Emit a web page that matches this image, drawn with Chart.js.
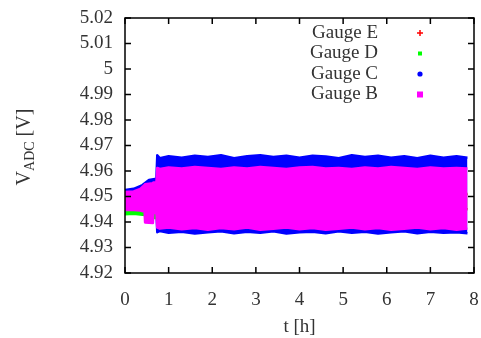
<!DOCTYPE html>
<html>
<head>
<meta charset="utf-8">
<script src="https://cdn.jsdelivr.net/npm/chart.js@4/dist/chart.umd.min.js"></script>
<style>
  html, body { margin: 0; padding: 0; background: #fff; }
  #wrap { width: 481px; height: 338px; }
</style>
</head>
<body>
<div id="wrap"><canvas id="chart" width="481" height="338"></canvas></div>
<script>
// values (upper / lower edge of each noise band)
var gaugeNames = ['Gauge E', 'Gauge D', 'Gauge C', 'Gauge B'];
var gaugeColors = ['#ff0000', '#00ff00', '#0000ff', '#ff00ff'];

var tE = [0, 7.85];
var eUp = [4.951, 4.951];
var eLo = [4.945, 4.945];

var tD = [0, 0.2, 0.4, 0.6, 0.66, 0.74];
var dUp = [4.950, 4.950, 4.950, 4.950, 4.950, 4.950];
var dLo = [4.9430, 4.9432, 4.9428, 4.9425, 4.9416, 4.9416];

var tC = [0, 0.2, 0.4, 0.55, 0.72, 0.74, 0.8, 1.0, 1.3, 1.6, 1.9, 2.2, 2.5, 2.8, 3.1, 3.4, 3.7, 4.0,
          4.3, 4.6, 4.9, 5.2, 5.5, 5.8, 6.1, 6.4, 6.7, 7.0, 7.3, 7.6, 7.85];
var cUp = [4.9525, 4.9530, 4.9545, 4.9565, 4.9570, 4.9662, 4.9650, 4.9658, 4.9652, 4.9660, 4.9655, 4.9662,
           4.9650, 4.9658, 4.9662, 4.9655, 4.9660, 4.9652, 4.9660, 4.9657, 4.9650, 4.9662, 4.9655, 4.9660,
           4.9652, 4.9658, 4.9650, 4.9660, 4.9652, 4.9658, 4.9652];
var cLo = [4.9445, 4.9445, 4.9445, 4.9445, 4.9445, 4.9360, 4.9365, 4.9358, 4.9362, 4.9355, 4.9360, 4.9364,
           4.9356, 4.9362, 4.9358, 4.9364, 4.9355, 4.9360, 4.9362, 4.9356, 4.9364, 4.9358, 4.9362, 4.9355,
           4.9360, 4.9364, 4.9356, 4.9362, 4.9358, 4.9360, 4.9356];

var tB = [0, 0.2, 0.35, 0.45, 0.46, 0.64, 0.65, 0.72, 0.74, 0.8, 1.0, 1.3, 1.6, 1.9, 2.2, 2.5, 2.8, 3.1,
          3.4, 3.7, 4.0, 4.3, 4.6, 4.9, 5.2, 5.5, 5.8, 6.1, 6.4, 6.7, 7.0, 7.3, 7.6, 7.85];
var bUp = [4.9518, 4.9520, 4.9530, 4.9545, 4.9548, 4.9552, 4.9555, 4.9555, 4.9612, 4.9608, 4.9614, 4.9610,
           4.9616, 4.9612, 4.9608, 4.9614, 4.9610, 4.9616, 4.9612, 4.9608, 4.9614, 4.9616, 4.9610, 4.9612,
           4.9608, 4.9614, 4.9610, 4.9616, 4.9612, 4.9608, 4.9614, 4.9610, 4.9612, 4.9610];
var bLo = [4.9447, 4.9447, 4.9445, 4.9440, 4.9398, 4.9396, 4.9435, 4.9435, 4.9378, 4.9374, 4.9378, 4.9372,
           4.9376, 4.9370, 4.9376, 4.9372, 4.9378, 4.9370, 4.9374, 4.9378, 4.9372, 4.9376, 4.9370, 4.9374,
           4.9378, 4.9372, 4.9376, 4.9370, 4.9374, 4.9378, 4.9372, 4.9376, 4.9370, 4.9374];

var yTicks = [4.92, 4.93, 4.94, 4.95, 4.96, 4.97, 4.98, 4.99, 5, 5.01, 5.02];
var xTicks = [0, 1, 2, 3, 4, 5, 6, 7, 8];

function pts(t, v) {
    return t.map(function (x, i) { return { x: x, y: v[i] }; });
}

function band(t, up, lo, color, order) {
    var common = {
        borderColor: color, backgroundColor: color, borderWidth: 2.5,
        borderJoinStyle: 'round', pointRadius: 0, tension: 0, order: order
    };
    return [
        Object.assign({ data: pts(t, up), fill: '+1' }, common),
        Object.assign({ data: pts(t, lo), fill: false }, common)
    ];
}

var datasets = []
    .concat(band(tE, eUp, eLo, gaugeColors[0], 4))
    .concat(band(tD, dUp, dLo, gaugeColors[1], 2))
    .concat(band(tC, cUp, cLo, gaugeColors[2], 3))
    .concat(band(tB, bUp, bLo, gaugeColors[3], 1));

var serif = 'Liberation Serif';

var framePlugin = {
    id: 'frame',
    afterDraw: function (chart) {
        var ctx = chart.ctx, a = chart.chartArea;
        var xs = chart.scales.x, ys = chart.scales.y;
        ctx.save();
        ctx.strokeStyle = '#000';
        ctx.lineWidth = 1.5;
        ctx.strokeRect(a.left, a.top, a.right - a.left, a.bottom - a.top);
        ctx.beginPath();
        yTicks.forEach(function (v) {
            var y = ys.getPixelForValue(v);
            ctx.moveTo(a.left, y); ctx.lineTo(a.left + 6, y);
            ctx.moveTo(a.right, y); ctx.lineTo(a.right - 6, y);
        });
        xTicks.forEach(function (v) {
            var x = xs.getPixelForValue(v);
            ctx.moveTo(x, a.bottom); ctx.lineTo(x, a.bottom - 6);
            ctx.moveTo(x, a.top); ctx.lineTo(x, a.top + 6);
        });
        ctx.stroke();

        // y axis title with subscript
        ctx.fillStyle = '#333';
        ctx.translate(25, 147);
        ctx.rotate(-Math.PI / 2);
        var big = '20px "' + serif + '"', small = '14px "' + serif + '"';
        ctx.font = big; var w1 = ctx.measureText('V').width;
        ctx.font = small; var w2 = ctx.measureText('ADC').width;
        ctx.font = big; var w3 = ctx.measureText(' [V]').width;
        var x0 = -(w1 + w2 + w3) / 2;
        ctx.textBaseline = 'middle';
        ctx.font = big; ctx.fillText('V', x0, 0);
        ctx.font = small; ctx.fillText('ADC', x0 + w1, 5);
        ctx.font = big; ctx.fillText(' [V]', x0 + w1 + w2, 0);
        ctx.restore();

        // legend: text right aligned, marker to the right
        ctx.save();
        ctx.font = '19px "' + serif + '"';
        ctx.textAlign = 'right';
        ctx.textBaseline = 'middle';
        gaugeNames.forEach(function (name, i) {
            var y = 33 + i * 20.5;
            ctx.fillStyle = '#333';
            ctx.fillText(name, 378, y);
            var c = gaugeColors[i];
            ctx.fillStyle = c; ctx.strokeStyle = c; ctx.lineWidth = 1.5;
            if (i === 0) {
                ctx.beginPath();
                ctx.moveTo(417, y); ctx.lineTo(423, y);
                ctx.moveTo(420, y - 3); ctx.lineTo(420, y + 3);
                ctx.stroke();
            } else if (i === 1) {
                ctx.fillRect(418, y - 2, 4, 4);
            } else if (i === 2) {
                ctx.beginPath(); ctx.arc(420, y, 2.6, 0, Math.PI * 2); ctx.fill();
            } else {
                ctx.fillRect(417, y - 3, 6, 6);
            }
        });
        ctx.restore();
    }
};

var ctx = document.getElementById('chart');
var chart = new Chart(ctx, {
    type: 'line',
    data: { datasets: datasets },
    options: {
        responsive: false,
        animation: false,
        layout: { padding: { left: 0, right: 7, top: 18, bottom: 0 } },
        plugins: { legend: { display: false }, tooltip: { enabled: false } },
        scales: {
            x: {
                type: 'linear', min: 0, max: 8,
                afterFit: function (s) { s.height = 65; s.paddingRight = 0; s.paddingLeft = 0; },
                afterBuildTicks: function (s) { s.ticks = xTicks.map(function (v) { return { value: v }; }); },
                grid: { display: false, drawTicks: false },
                border: { display: false },
                ticks: { padding: 16, autoSkip: false, maxRotation: 0, color: '#333', font: { family: serif, size: 19 } },
                title: { display: true, text: 't [h]', color: '#333', font: { family: serif, size: 19 }, padding: { top: 0, bottom: 0 } }
            },
            y: {
                type: 'linear', min: 4.92, max: 5.02,
                afterFit: function (s) { s.width = 125; s.paddingTop = 0; s.paddingBottom = 0; },
                afterBuildTicks: function (s) { s.ticks = yTicks.map(function (v) { return { value: v }; }); },
                grid: { display: false, drawTicks: false },
                border: { display: false },
                ticks: {
                    padding: 12, autoSkip: false, color: '#333', font: { family: serif, size: 19 },
                    callback: function (v) { return String(Number(v.toFixed(2))); }
                }
            }
        }
    },
    plugins: [framePlugin]
});
</script>
</body>
</html>
